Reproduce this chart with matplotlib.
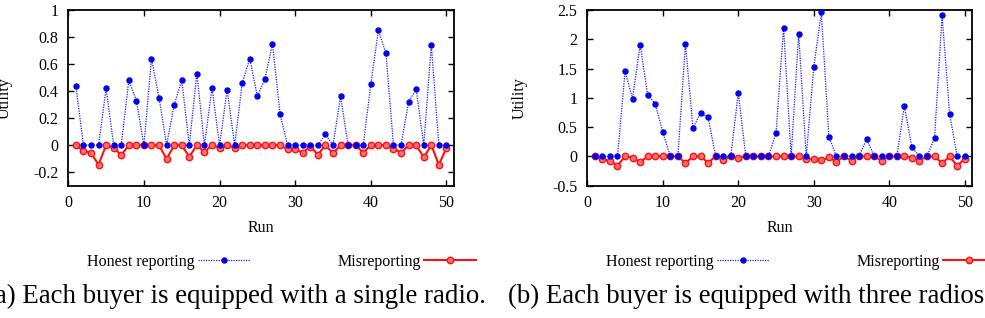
import matplotlib
matplotlib.use("Agg")
import matplotlib.pyplot as plt
import numpy as np

runs = np.arange(1, 51)

# (a) single radio
honest_a = [0.44, 0, 0, 0, 0.42, 0, 0, 0.48, 0.33, 0,
            0.64, 0.35, 0, 0.30, 0.48, 0, 0.53, 0, 0.425, 0,
            0.41, 0, 0.46, 0.64, 0.36, 0.49, 0.75, 0.23, 0, 0,
            0, 0, 0, 0.08, 0, 0.36, 0, 0, 0, 0.45,
            0.85, 0.68, 0, 0, 0.32, 0.415, 0, 0.74, 0, 0]
mis_a = [0, -0.044, -0.056, -0.145, 0, -0.02, -0.074, 0, 0, 0,
         0, 0, -0.103, 0, 0, -0.086, 0, -0.05, 0, -0.02,
         0, -0.02, 0, 0, 0, 0, 0, 0, -0.032, -0.032,
         -0.056, -0.01, -0.07, 0, -0.06, 0, 0, 0, -0.056, 0,
         0, 0, -0.025, -0.056, 0, 0, -0.09, 0, -0.145, -0.02]

# (b) three radios
honest_b = [0, 0, 0, 0, 1.45, 0.985, 1.91, 1.05, 0.90, 0.415,
            0, 0, 1.92, 0.48, 0.745, 0.67, 0, 0, 0, 1.08,
            0, 0, 0, 0, 0.40, 2.20, 0, 2.09, 0, 1.52,
            2.46, 0.34, 0, 0, 0, 0, 0.30, 0, 0, 0,
            0, 0.86, 0.155, 0, 0, 0.32, 2.41, 0.72, 0, 0]
mis_b = [0, -0.05, -0.074, -0.16, 0, -0.02, -0.097, 0, 0, 0,
         0, 0, -0.114, 0, 0, -0.108, 0, -0.063, 0, -0.02,
         0, 0, 0, 0, 0, 0, 0, 0, -0.04, -0.04,
         -0.068, -0.017, -0.09, 0, -0.074, 0, 0, 0, -0.074, 0,
         0, 0, -0.02, -0.074, 0, 0, -0.114, 0, -0.16, -0.04]

yticks_a = [-0.2, 0, 0.2, 0.4, 0.6, 0.8, 1]
ylabels_a = ['-0.2', '0', '0.2', '0.4', '0.6', '0.8', '1']
yticks_b = [-0.5, 0, 0.5, 1, 1.5, 2, 2.5]
ylabels_b = ['-0.5', '0', '0.5', '1', '1.5', '2', '2.5']
xticks = [0, 10, 20, 30, 40, 50]

plt.rcParams['font.family'] = ['Liberation Serif', 'DejaVu Serif']

fig = plt.figure(figsize=(9.85, 3.18), dpi=100)

W, H = 985, 318
def box(x0, x1, y0, y1):
    return [x0 / W, 1 - y1 / H, (x1 - x0) / W, (y1 - y0) / H]

ax1 = fig.add_axes(box(68.3, 454, 10, 185.7))
ax2 = fig.add_axes(box(587.3, 972.3, 10, 185.7))

panels = [
    (ax1, honest_a, mis_a, (-0.3, 1), yticks_a, ylabels_a, -64),
    (ax2, honest_b, mis_b, (-0.5, 2.5), yticks_b, ylabels_b, -68),
]

fs = 11.5
for ax, hon, mis, ylim, yt, yl, ylab_x in panels:
    ax.plot(runs, mis, color='#ff1010', lw=1.5, marker='o', ms=4.6,
            mfc='#ff7070', mec='#ff1010', mew=1, label='Misreporting', zorder=2)
    ax.plot(runs, hon, color='#1a1aff', lw=0.9, ls=(0, (1, 1)), marker='o', ms=3.6,
            mfc='#0000ee', mec='#0000ee', label='Honest reporting', zorder=3)
    ax.set_xlim(0, 51)
    ax.set_ylim(*ylim)
    ax.set_xticks(xticks)
    ax.set_xticklabels([str(t) for t in xticks])
    ax.set_yticks(yt)
    ax.set_yticklabels(yl)
    ax.tick_params(direction='in', top=True, right=True, length=4.5, width=1,
                   labelsize=fs, pad=7)
    for s in ax.spines.values():
        s.set_linewidth(1.3)
    ax.set_xlabel('Run', fontsize=fs)
    ax.xaxis.set_label_coords(0.5, -(228 - 185.7) / 175.7)
    ax.xaxis.label.set_va('center')
    ax.set_ylabel('Utility', fontsize=fs)
    ax.yaxis.set_label_coords(ylab_x / 385.5, 0.5)
    ax.yaxis.label.set_va('center')
    h, l = ax.get_legend_handles_labels()
    ax.legend(h[::-1], l[::-1], loc='center left',
              bbox_to_anchor=(19 / 385.5, -(262 - 185.7) / 175.7),
              ncol=2, frameon=False, markerfirst=False, fontsize=fs,
              handlelength=3.25, handletextpad=0.2, columnspacing=5.5,
              borderaxespad=0, borderpad=0)

fig.text(-14 / W, 1 - 296 / H, '(a) Each buyer is equipped with a single radio.',
         fontsize=19.4, ha='left', va='center')
fig.text(508 / W, 1 - 296 / H, '(b) Each buyer is equipped with three radios.',
         fontsize=19.4, ha='left', va='center')

fig.savefig('out.png', dpi=100)
